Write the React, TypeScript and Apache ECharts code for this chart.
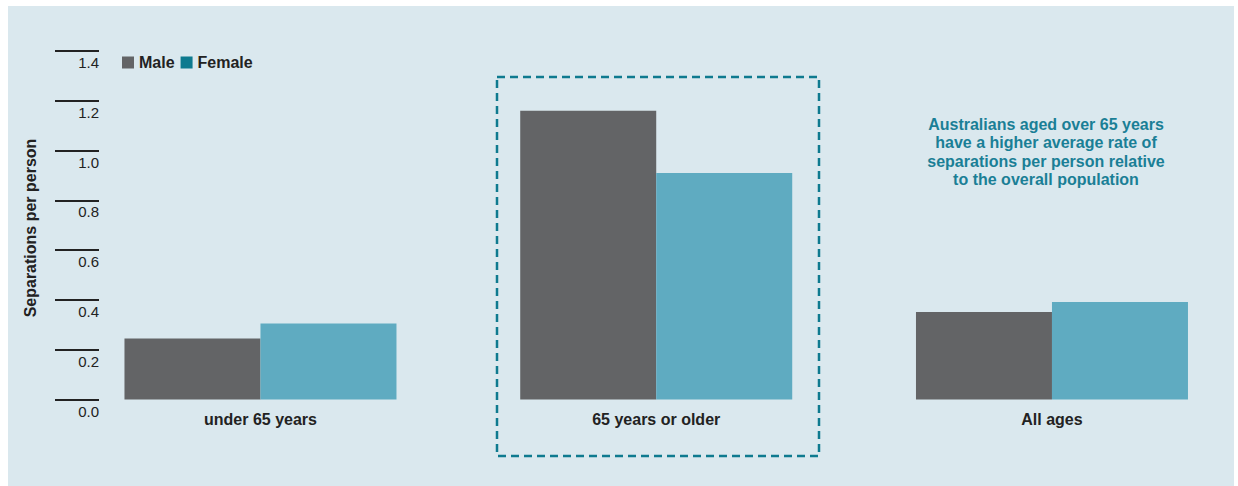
import React, { useEffect, useRef } from "react";
import * as echarts from "echarts";

const categories = ["under 65 years", "65 years or older", "All ages"];
const maleValues = [0.245, 1.16, 0.352];
const femaleValues = [0.305, 0.91, 0.392];
const seriesNames = ["Male", "Female"];
const yTicks = { min: 0, max: 1.4, interval: 0.2 };
const annotation = [
  "Australians aged over 65 years",
  "have a higher average rate of",
  "separations per person relative",
  "to the overall population",
];
const yTitle = "Separations per person";

const FONT = "'Liberation Sans', Arial, Helvetica, sans-serif";

export default function App() {
  const ref = useRef<HTMLDivElement>(null);
  useEffect(() => {
    if (!ref.current) return;
    const chart = echarts.init(ref.current, undefined, { renderer: "svg" });
    chart.setOption({
      animation: false,
      backgroundColor: "#dae8ee",
      textStyle: { fontFamily: FONT },
      grid: { left: 54.6, right: 8.15, top: 45, bottom: 86.5, containLabel: false },
      legend: {
        left: 114,
        top: 48.5,
        padding: 0,
        itemWidth: 12,
        itemHeight: 12,
        itemGap: 6,
        icon: "rect",
        textStyle: { fontSize: 16, fontWeight: "bold", color: "#222", fontFamily: FONT },
        data: [
          { name: seriesNames[0], itemStyle: { color: "#636466" } },
          { name: seriesNames[1], itemStyle: { color: "#0e7a8f" } },
        ],
      },
      xAxis: {
        type: "category",
        data: categories,
        axisLine: { show: false },
        axisTick: { show: false },
        axisLabel: { fontSize: 16, fontWeight: "bold", color: "#222", margin: 12, fontFamily: FONT },
      },
      yAxis: {
        type: "value",
        min: yTicks.min,
        max: yTicks.max,
        interval: yTicks.interval,
        offset: -36.4,
        axisLine: { show: false },
        splitLine: { show: false },
        axisTick: { show: true, length: 44, inside: false, lineStyle: { color: "#222", width: 2 } },
        axisLabel: {
          fontSize: 15,
          color: "#222",
          margin: 0,
          align: "right",
          verticalAlign: "top",
          padding: [4, 0, 0, 0],
          fontFamily: FONT,
          formatter: (v: number) => v.toFixed(1),
        },
      },
      series: [
        {
          name: seriesNames[0],
          type: "bar",
          data: maleValues,
          barWidth: 136,
          barGap: "0%",
          itemStyle: { color: "#636466" },
        },
        {
          name: seriesNames[1],
          type: "bar",
          data: femaleValues,
          barWidth: 136,
          barGap: "0%",
          itemStyle: { color: "#5fabc1" },
        },
      ],
      graphic: [
        {
          type: "rect",
          shape: { x: 489, y: 71, width: 322, height: 379 },
          style: { fill: "none", stroke: "#0e7a8f", lineWidth: 2.5, lineDash: [8, 5] },
          silent: true,
        },
        {
          type: "text",
          x: 1038,
          y: 108.75,
          style: {
            text: annotation.join("\n"),
            fill: "#1a7f96",
            font: `bold 16px ${FONT}`,
            textAlign: "center",
            textVerticalAlign: "top",
            lineHeight: 18.5,
          },
          silent: true,
        },
        {
          type: "text",
          x: 22,
          y: 222,
          rotation: Math.PI / 2,
          style: {
            text: yTitle,
            fill: "#222",
            font: `bold 16px ${FONT}`,
            textAlign: "center",
            textVerticalAlign: "middle",
          },
          silent: true,
        },
      ],
    });
    return () => chart.dispose();
  }, []);
  return (
    <div
      style={{
        position: "absolute",
        left: 8,
        top: 6,
        width: 1226,
        height: 480,
        overflow: "hidden",
      }}
    >
      <div ref={ref} style={{ width: 1250, height: 480 }} />
    </div>
  );
}
